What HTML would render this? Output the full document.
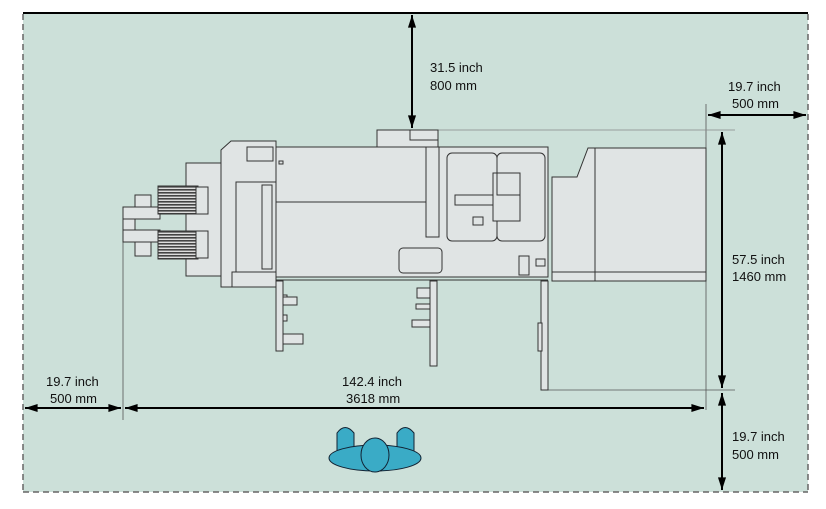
<!DOCTYPE html>
<html><head><meta charset="utf-8"><style>
html,body{margin:0;padding:0;background:#fff;width:826px;height:509px;overflow:hidden}
text{font-family:"Liberation Sans",sans-serif;font-size:13px;fill:#111}
</style></head><body>
<svg width="826" height="509" viewBox="0 0 826 509" xmlns="http://www.w3.org/2000/svg">
<defs>
<marker id="a" viewBox="0 0 14 10" refX="14" refY="5" markerWidth="14" markerHeight="9" orient="auto-start-reverse" markerUnits="userSpaceOnUse"><path d="M0,0.5 L14,5 L0,9.5 z" fill="#000"/></marker>
<pattern id="st" width="4" height="3" patternUnits="userSpaceOnUse"><rect width="4" height="3" fill="#ddd"/><rect width="4" height="1.6" fill="#444"/></pattern>
</defs>
<rect x="23" y="13" width="785" height="479" fill="#cce0d9"/>
<line x1="23" y1="13" x2="808" y2="13" stroke="#000" stroke-width="2"/>
<g stroke="#666" stroke-width="1.5" stroke-dasharray="6,4" fill="none">
<line x1="23" y1="14" x2="23" y2="492"/><line x1="808" y1="14" x2="808" y2="492"/><line x1="23" y1="492" x2="808" y2="492"/>
</g>
<g stroke="#555" stroke-width="0.8" fill="none">
<line x1="123" y1="240" x2="123" y2="420"/>
<line x1="706" y1="104" x2="706" y2="410"/>
<line x1="430" y1="130" x2="735" y2="130" stroke="#888"/>
<line x1="548" y1="390" x2="735" y2="390"/>
</g>
<g fill="#e0e4e4" stroke="#333" stroke-width="1">
<rect x="377" y="130" width="61" height="17"/>
<rect x="410" y="130" width="28" height="10"/>
<rect x="276" y="147" width="272" height="130"/>
<line x1="276" y1="202" x2="426" y2="202"/>
<rect x="426" y="147" width="13" height="90"/>
<rect x="447" y="153" width="50" height="88" rx="5"/>
<rect x="497" y="153" width="48" height="88" rx="5"/>
<rect x="493" y="173" width="27" height="48"/>
<rect x="497" y="173" width="23" height="22"/>
<rect x="455" y="195" width="38" height="10"/>
<rect x="473" y="217" width="10" height="8"/>
<rect x="399" y="248" width="43" height="25" rx="4"/>
<rect x="519" y="256" width="10" height="19"/>
<rect x="536" y="259" width="9" height="7"/>
<rect x="279" y="161" width="4" height="3"/>
<line x1="276" y1="280" x2="548" y2="280"/>
<path d="M221,150 L231,141 L276,141 L276,287 L253,287 L254,280 L232,287 L221,287 L221,270 Z"/>
<rect x="247" y="147" width="26" height="14"/>
<rect x="236" y="182" width="40" height="91"/>
<rect x="262" y="185" width="10" height="84"/>
<rect x="232" y="272" width="44" height="15"/>
<rect x="186" y="163" width="35" height="113"/>
<rect x="135" y="195" width="16" height="17"/>
<rect x="135" y="242" width="16" height="14"/>
<rect x="123" y="207" width="37" height="12"/>
<rect x="123" y="219" width="12" height="13"/>
<rect x="123" y="230" width="37" height="12"/>
<rect x="158" y="186" width="40" height="28" fill="url(#st)"/>
<rect x="158" y="231" width="40" height="28" fill="url(#st)"/>
<rect x="196" y="187" width="12" height="27"/>
<rect x="196" y="231" width="12" height="27"/>
<rect x="276" y="281" width="7" height="70"/>
<rect x="283" y="295" width="4" height="6"/><rect x="283" y="297" width="14" height="8"/>
<rect x="283" y="315" width="4" height="6"/><rect x="283" y="334" width="20" height="10"/>
<rect x="430" y="281" width="7" height="85"/>
<rect x="417" y="288" width="13" height="10"/><rect x="416" y="304" width="14" height="5"/>
<rect x="412" y="320" width="18" height="7"/>
<rect x="541" y="281" width="7" height="109"/>
<rect x="538" y="323" width="4" height="28"/>
<path d="M552,177 L577,177 L588,148 L706,148 L706,281 L552,281 Z"/>
<line x1="595" y1="148" x2="595" y2="281"/>
<line x1="552" y1="272" x2="706" y2="272"/>
</g>
<g fill="#3aabc6" stroke="#123" stroke-width="1">
<path d="M337,452 L337,433 Q345,422 354,433 L354,452 Z"/>
<path d="M397,452 L397,433 Q405,422 414,433 L414,452 Z"/>
<ellipse cx="375" cy="458" rx="46" ry="13"/>
<ellipse cx="375" cy="455" rx="14" ry="17"/>
</g>
<g stroke="#000" stroke-width="2" fill="none" marker-start="url(#a)" marker-end="url(#a)">
<line x1="412" y1="15" x2="412" y2="128"/>
<line x1="708" y1="115" x2="806" y2="115"/>
<line x1="722" y1="132" x2="722" y2="388"/>
<line x1="722" y1="393" x2="722" y2="490"/>
<line x1="25" y1="408" x2="121" y2="408"/>
<line x1="125" y1="408" x2="704" y2="408"/>
</g>
<text x="430" y="72">31.5 inch</text><text x="430" y="90">800 mm</text>
<text x="728" y="91">19.7 inch</text><text x="732" y="108">500 mm</text>
<text x="732" y="264">57.5 inch</text><text x="732" y="281">1460 mm</text>
<text x="732" y="441">19.7 inch</text><text x="732" y="459">500 mm</text>
<text x="46" y="386">19.7 inch</text><text x="50" y="403">500 mm</text>
<text x="342" y="386">142.4 inch</text><text x="346" y="403">3618 mm</text>
</svg>
</body></html>
